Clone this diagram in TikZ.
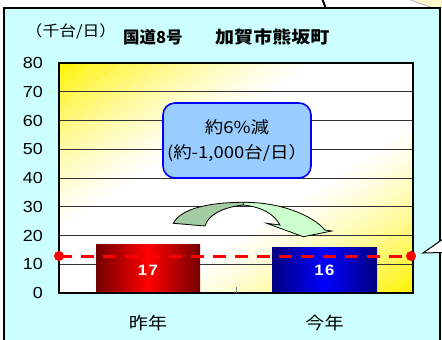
\documentclass[tikz,border=0pt]{standalone}
\usepackage{fontspec}
\setmainfont{Liberation Sans}[FakeStretch=1.12]
\newfontfamily\jp{Noto Sans CJK JP}[FakeStretch=1.12]
\newfontfamily\jpn{Noto Sans CJK JP}
\usetikzlibrary{calc}
\definecolor{panel}{HTML}{CCFFFF}
\definecolor{calloutfill}{HTML}{99CCFF}
\definecolor{darkgreen}{HTML}{A3CCA3}
\definecolor{lightgreen}{HTML}{CCFFCC}
\definecolor{paleyellow}{HTML}{FFF8CC}
\tikzset{
  gridline/.style={draw=black!80, line width=0.7pt},
  ylab/.style={anchor=east, inner sep=0pt, font=\fontsize{16}{18}\selectfont},
  catlab/.style={inner sep=0pt, font=\jp\fontsize{17}{20}\selectfont},
  barlab/.style={inner sep=0pt, text=white, font=\bfseries\fontsize{15}{18}\selectfont},
  reddot/.style={circle, fill=red, inner sep=0pt, minimum size=10pt},
  noteBox/.style={draw=blue, line width=1.6pt, fill=calloutfill, rounded corners=12pt,
     minimum width=148pt, minimum height=75pt, align=center, inner sep=0pt,
     font=\jp\fontsize{16.5}{25}\selectfont},
  arrowpart/.style={draw=black, line width=0.8pt}
}
\begin{document}
\begin{tikzpicture}[x=1pt,y=-1pt]
\useasboundingbox (0,0) rectangle (442,340);
\clip (0,0) rectangle (442,340);
% remnants above the panel
\fill[paleyellow] (405,-2) -- (443,-2) -- (443,7) -- (436,9) -- cycle;
\draw[gray!60, line width=0.8pt] (405,-2) -- (436,9);
\draw[line width=2pt] (322,-2) -- (326,9);
% panel
\draw[fill=panel, line width=1.5pt] (4,8) rectangle (440,352);
% plot area with diagonal yellow-white-yellow gradient
\coordinate (pTL) at (59,63);
\coordinate (pBR) at (413,293);
\begin{scope}
  \clip (pTL) rectangle (pBR);
  \fill[white] (pTL) rectangle (pBR);
  \foreach \i in {0,...,49} {
    \pgfmathsetmacro{\ta}{-1.02+\i*0.0408}
    \pgfmathsetmacro{\tb}{\ta+0.0458}
    \pgfmathsetmacro{\tm}{abs(\ta+0.0204)}
    \pgfmathsetmacro{\xx}{max(0,(\tm-0.27)/0.73)}
    \pgfmathsetmacro{\ff}{min(100,100*(0.55*\xx+0.45*\xx*\xx))}
    \fill[yellow!\ff!white]
      ({236+177*(\ta-1.05)},{178+115*(\ta+1.05)}) --
      ({236+177*(\ta+1.05)},{178+115*(\ta-1.05)}) --
      ({236+177*(\tb+1.05)},{178+115*(\tb-1.05)}) --
      ({236+177*(\tb-1.05)},{178+115*(\tb+1.05)}) -- cycle;
  }
\end{scope}
\foreach \v in {10,20,...,70} {
  \draw[gridline] (59,{293-\v*2.875}) -- (413,{293-\v*2.875});
}
\foreach \v in {0,10,...,80} {
  \node[ylab] (y\v) at (43,{293-\v*2.875}) {\v};
}
% bars
\shade[left color=red!45!black, right color=red!45!black, middle color=red] (96,{293-17*2.875}) rectangle (200,293);
\shade[left color=blue!50!black, right color=blue!50!black, middle color=blue] (272,{293-16*2.875}) rectangle (377,293);
\node[barlab] (b17) at (148,270) {1\kern1.5pt 7};
\node[barlab] (b16) at (324.5,270) {1\kern1.5pt 6};
\draw[line width=1.2pt] (pTL) rectangle (pBR);
\draw[gray, line width=0.8pt] (236,293) -- (236,287);
% dashed reference line
\node[reddot] (dl) at (59,256) {};
\node[reddot] (dr) at (411,256) {};
\draw[red, line width=3pt, dash pattern=on 13pt off 9pt] (dl.center) -- (dr.center);
% category labels
\node[catlab] (c1) at (148,323) {昨年};
\node[catlab] (c2) at (324.5,323) {今年};
% titles
\node[inner sep=0pt, font=\jp\fontsize{15}{16}\selectfont] (unit) at (71,31) {（千台/日）};
\node[inner sep=0pt, anchor=west, font=\jpn\bfseries\fontsize{16.5}{18}\selectfont] (t1) at (123,37) {国道8号};
\node[inner sep=0pt, anchor=west, font=\jp\bfseries\fontsize{17}{18}\selectfont] (t2) at (215,37) {加賀市熊坂町};
% callout
\node[noteBox] (note) at (237,140.5) {約6\%減\\(約-1,000台/日）};
% curved arrow
\path[arrowpart, fill=darkgreen] (173.3,223.3) .. controls (180,210) and (205,202) .. (246.7,202.3)
   -- (243.3,205) .. controls (225,207) and (208,214) .. (205,226) -- cycle;
\path[arrowpart, fill=lightgreen] (243.3,202.3) .. controls (280,202) and (312,215) .. (325,230)
   -- (331.7,231) -- (303.3,236.7) -- (266.7,223.3) -- (280,225)
   .. controls (274,214) and (262,207) .. (243.3,205) -- cycle;
% callout pointer at right
\fill[white] (443,239) -- (423,253) -- (443,252.5) -- cycle;
\draw[line width=1pt] (443,239) -- (423,253) -- (443,252.5);
\end{tikzpicture}
\end{document}
